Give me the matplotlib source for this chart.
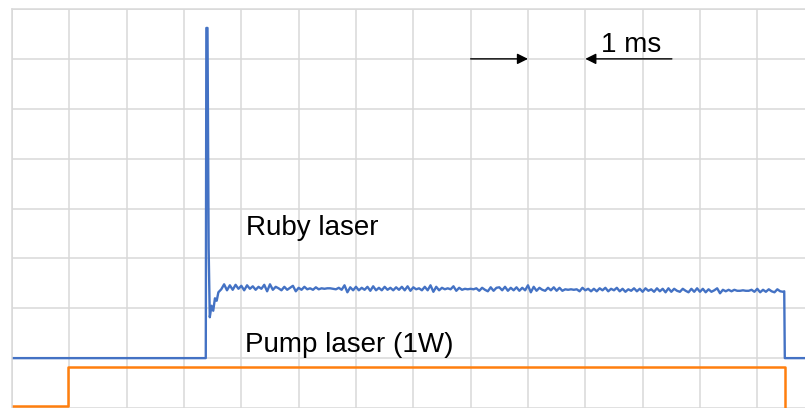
import numpy as np
import matplotlib
matplotlib.use("Agg")
import matplotlib.pyplot as plt

# time in ms, signal in screen divisions (baseline of ruby trace = 1 div)
ruby_t_start = [0.0, 3.38, 3.39, 3.41, 3.43, 3.45, 3.48, 3.51, 3.54, 3.57, 3.60]
ruby_v_start = [1.0, 1.0, 7.62, 7.62, 3.2, 1.82, 2.05, 1.95, 2.20, 2.15, 2.32]

ruby_plateau = [
    2.38, 2.48, 2.36, 2.46, 2.37, 2.47, 2.39, 2.45, 2.36, 2.46,
    2.39, 2.44, 2.37, 2.43, 2.39, 2.47, 2.34, 2.48, 2.37, 2.43,
    2.40, 2.36, 2.43, 2.37, 2.41, 2.45, 2.34, 2.41, 2.37, 2.43,
    2.38, 2.40, 2.37, 2.42, 2.38, 2.40, 2.39, 2.40, 2.40, 2.39,
    2.38, 2.41, 2.37, 2.46, 2.32, 2.42, 2.36, 2.43, 2.36, 2.41,
    2.37, 2.43, 2.35, 2.44, 2.36, 2.41, 2.36, 2.43, 2.37, 2.41,
    2.36, 2.42, 2.37, 2.43, 2.36, 2.44, 2.35, 2.42, 2.38, 2.40,
    2.36, 2.43, 2.36, 2.46, 2.33, 2.43, 2.36, 2.41, 2.38, 2.40,
    2.38, 2.44, 2.35, 2.41, 2.37, 2.39, 2.38, 2.39, 2.38, 2.40,
    2.35, 2.41, 2.37, 2.34, 2.42, 2.35, 2.41, 2.42, 2.36, 2.43,
    2.35, 2.41, 2.36, 2.42, 2.35, 2.41, 2.36, 2.46, 2.32, 2.43,
    2.35, 2.41, 2.37, 2.35, 2.41, 2.36, 2.42, 2.35, 2.41, 2.35,
    2.38, 2.37, 2.38, 2.37, 2.38, 2.34, 2.41, 2.36, 2.39, 2.34,
    2.39, 2.34, 2.40, 2.36, 2.41, 2.34, 2.39, 2.36, 2.41, 2.34,
    2.39, 2.33, 2.38, 2.35, 2.40, 2.34, 2.39, 2.33, 2.40, 2.35,
    2.38, 2.33, 2.40, 2.34, 2.39, 2.32, 2.40, 2.33, 2.39, 2.35,
    2.33, 2.39, 2.35, 2.32, 2.39, 2.33, 2.40, 2.33, 2.39, 2.32,
    2.38, 2.33, 2.36, 2.40, 2.30, 2.37, 2.34, 2.37, 2.34, 2.37,
    2.35, 2.35, 2.36, 2.35, 2.35, 2.37, 2.33, 2.39, 2.32, 2.37,
    2.33, 2.38, 2.34, 2.32, 2.38, 2.34, 2.33,
]
plateau_t0, plateau_t1 = 3.65, 13.45

ruby_t_end = [13.47, 13.48, 13.84]
ruby_v_end = [2.34, 1.0, 1.0]

pump_t = [0.0, 0.98, 0.98, 13.48, 13.48, 13.84]
pump_v = [0.05, 0.05, 0.82, 0.82, -0.5, -0.5]

plateau_t = np.linspace(plateau_t0, plateau_t1, len(ruby_plateau))
ruby_t = np.concatenate([ruby_t_start, plateau_t, ruby_t_end])
ruby_v = np.concatenate([ruby_v_start, ruby_plateau, ruby_v_end])

plt.rcParams['font.family'] = ['Liberation Sans', 'DejaVu Sans']

fig = plt.figure(figsize=(8.05, 4.08), dpi=100)
ax = fig.add_axes([12 / 805, 0, 793 / 805, 399 / 408])

grid_c = '#d9d9d9'
ax.set_xlim(0, 793 / 57.33)
ax.set_ylim(0.02, 8)
ax.set_xticks(np.arange(0, 14, 1))
ax.set_yticks(np.arange(0, 9, 1))
ax.tick_params(length=0, labelbottom=False, labelleft=False)
ax.grid(True, color=grid_c, lw=1.1)
ax.set_axisbelow(True)
for side in ['right', 'bottom']:
    ax.spines[side].set_visible(False)
for side in ['left', 'top']:
    ax.spines[side].set_color(grid_c)
    ax.spines[side].set_linewidth(1.1)

ax.plot(pump_t, pump_v, color='#FF7F0E', lw=1.8)
ax.plot(ruby_t, ruby_v, color='#4472C4', lw=1.7)

ax.text(4.08, 3.60, 'Ruby laser', fontsize=20, va='center', ha='left')
ax.text(4.06, 1.27, 'Pump laser (1W)', fontsize=20, va='center', ha='left')
ax.text(10.28, 7.28, '1 ms', fontsize=20, va='center', ha='left')

arrow = dict(arrowstyle='-|>', color='black', lw=1.0, mutation_scale=16,
             shrinkA=0, shrinkB=0)
ax.annotate('', xy=(9.0, 7.0), xytext=(8.0, 7.0), arrowprops=arrow)
ax.annotate('', xy=(10.0, 7.0), xytext=(11.51, 7.0), arrowprops=arrow)

fig.savefig('out.png', dpi=100)
